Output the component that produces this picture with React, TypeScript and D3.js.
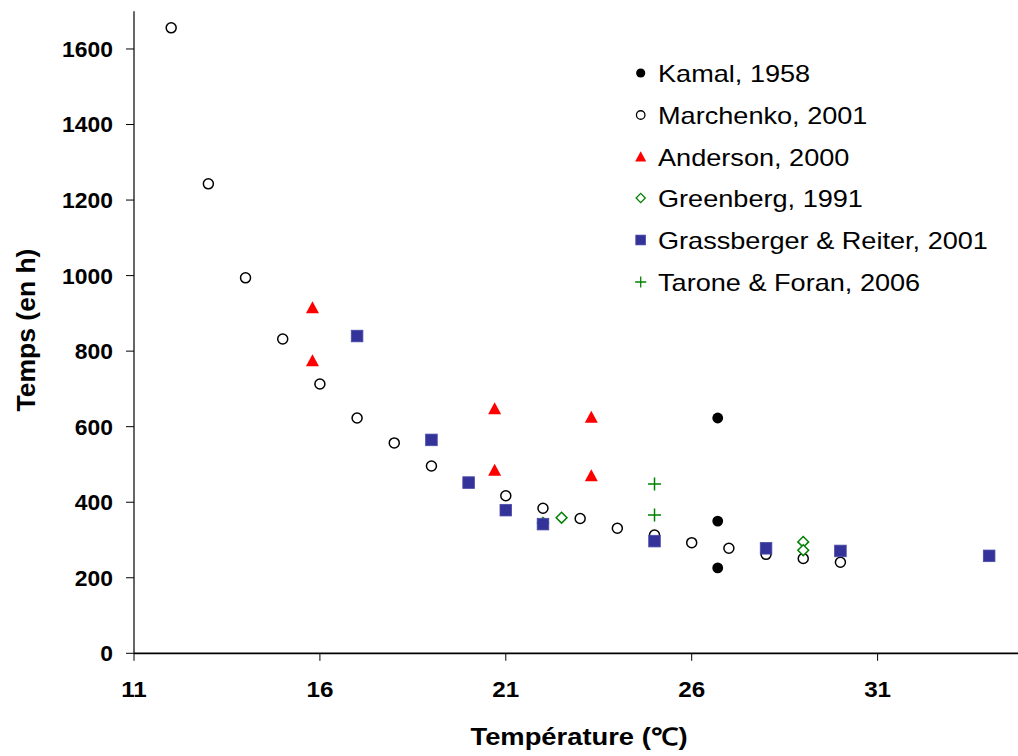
import React from "react";
import * as d3 from "d3";

// ---- Data ----
const kamalT = [26.7, 26.7, 26.7];
const kamalH = [623, 350, 226];

const marchenkoT = [12, 13, 14, 15, 16, 17, 18, 19, 21, 22, 23, 24, 25, 26, 27, 28, 29, 30];
const marchenkoH = [1656, 1243, 994, 832, 713, 623, 557, 496, 417, 384, 357, 331, 313, 293, 278, 262, 251, 241];

const andersonT = [15.8, 15.8, 20.7, 20.7, 23.3, 23.3];
const andersonH = [914, 774, 647, 484, 624, 469];

const greenbergT = [22, 22.5, 29, 29];
const greenbergH = [345, 359, 295, 273];

const grassbergerT = [17, 19, 20, 21, 22, 25, 28, 30, 34];
const grassbergerH = [840, 565, 452, 379, 342, 297, 278, 271, 258];

const taroneT = [25, 25];
const taroneH = [448, 366];

const seriesNames = [
  "Kamal, 1958",
  "Marchenko, 2001",
  "Anderson, 2000",
  "Greenberg, 1991",
  "Grassberger & Reiter, 2001",
  "Tarone & Foran, 2006",
];

const xTicks = [11, 16, 21, 26, 31];
const yTicks = [0, 200, 400, 600, 800, 1000, 1200, 1400, 1600];

const xTitle = "Température (℃)";
const yTitle = "Temps (en h)";

// ---- Layout ----
const W = 1018;
const H = 756;
const x = d3.scaleLinear().domain([11, 36]).range([134, 134 + 25 * 37.18]);
const y = d3.scaleLinear().domain([0, 1700]).range([653.3, 653.3 - 1700 * 0.3777]);

const FONT = "'Liberation Sans', Arial, Helvetica, sans-serif";

type Kind = "filled" | "open" | "tri" | "diamond" | "square" | "plus";

function Marker({ kind, cx, cy, s = 1 }: { kind: Kind; cx: number; cy: number; s?: number }) {
  const t = `translate(${cx},${cy}) scale(${s})`;
  switch (kind) {
    case "filled":
      return <circle transform={t} r={5.4} fill="#000" />;
    case "open":
      return <circle transform={t} r={5} fill="#fff" stroke="#000" strokeWidth={1.5} />;
    case "tri":
      return <path transform={t} d="M0,-6.8 L6.5,5.2 L-6.5,5.2 Z" fill="#ff0000" />;
    case "diamond":
      return <path transform={t} d="M0,-5.4 L5.4,0 L0,5.4 L-5.4,0 Z" fill="#fff" stroke="#008000" strokeWidth={1.5} />;
    case "square":
      return <rect transform={t} x={-5.8} y={-5.8} width={11.6} height={11.6} fill="#333399" stroke="#4a4aa8" strokeWidth={0.8} />;
    case "plus":
      return <path transform={t} d="M-6.5,0 L6.5,0 M0,-6.5 L0,6.5" stroke="#008000" strokeWidth={1.5} fill="none" />;
  }
}

const series: { kind: Kind; t: number[]; h: number[] }[] = [
  { kind: "filled", t: kamalT, h: kamalH },
  { kind: "open", t: marchenkoT, h: marchenkoH },
  { kind: "tri", t: andersonT, h: andersonH },
  { kind: "diamond", t: greenbergT, h: greenbergH },
  { kind: "square", t: grassbergerT, h: grassbergerH },
  { kind: "plus", t: taroneT, h: taroneH },
];

const legendY = [73, 115, 157, 198, 240, 282];

export default function App() {
  const x0 = x(11);
  const y0 = y(0);
  return (
    <div style={{ position: "absolute", left: 0, top: 0 }}>
      <svg width={W} height={H} style={{ display: "block", background: "#fff" }}>
        <rect width={W} height={H} fill="#fff" />
        {/* axes */}
        <line x1={x0} x2={W} y1={y0} y2={y0} stroke="#000" strokeWidth={1.8} />
        <line x1={x0} x2={x0} y1={y(1700)} y2={y0} stroke="#000" strokeWidth={1.2} />
        {yTicks.map((v) => (
          <g key={"y" + v}>
            <line x1={x0 - 8} x2={x0} y1={y(v)} y2={y(v)} stroke="#000" strokeWidth={1} />
            <text
              transform={`translate(113,${y(v)}) scale(1.04,1)`}
              dy="0.36em"
              textAnchor="end"
              fontFamily={FONT}
              fontWeight="bold"
              fontSize={22}
            >
              {v}
            </text>
          </g>
        ))}
        {xTicks.map((v) => (
          <g key={"x" + v}>
            <line x1={x(v)} x2={x(v)} y1={y0} y2={y0 + 7.5} stroke="#000" strokeWidth={1} />
            <text
              transform={`translate(${x(v)},697) scale(1.1,1)`}
              textAnchor="middle"
              fontFamily={FONT}
              fontWeight="bold"
              fontSize={22}
            >
              {v}
            </text>
          </g>
        ))}
        <text
          transform="translate(579,745) scale(1.14,1)"
          textAnchor="middle"
          fontFamily={FONT}
          fontWeight="bold"
          fontSize={24}
        >
          {xTitle}
        </text>
        <text
          transform={`translate(35,330) rotate(-90) scale(1.06,1)`}
          textAnchor="middle"
          fontFamily={FONT}
          fontWeight="bold"
          fontSize={25}
        >
          {yTitle}
        </text>
        {/* points */}
        {series.map((s, i) => (
          <g key={"s" + i}>
            {s.t.map((tv, j) => (
              <Marker key={j} kind={s.kind} cx={x(tv)} cy={y(s.h[j])} />
            ))}
          </g>
        ))}
        {/* legend */}
        {seriesNames.map((n, i) => (
          <g key={"l" + i}>
            <Marker kind={series[i].kind} cx={640.7} cy={legendY[i]} s={0.85} />
            <text
              transform={`translate(658,${legendY[i]}) scale(1.13,1)`}
              dy="0.36em"
              fontFamily={FONT}
              fontSize={24}
            >
              {n}
            </text>
          </g>
        ))}
      </svg>
    </div>
  );
}
